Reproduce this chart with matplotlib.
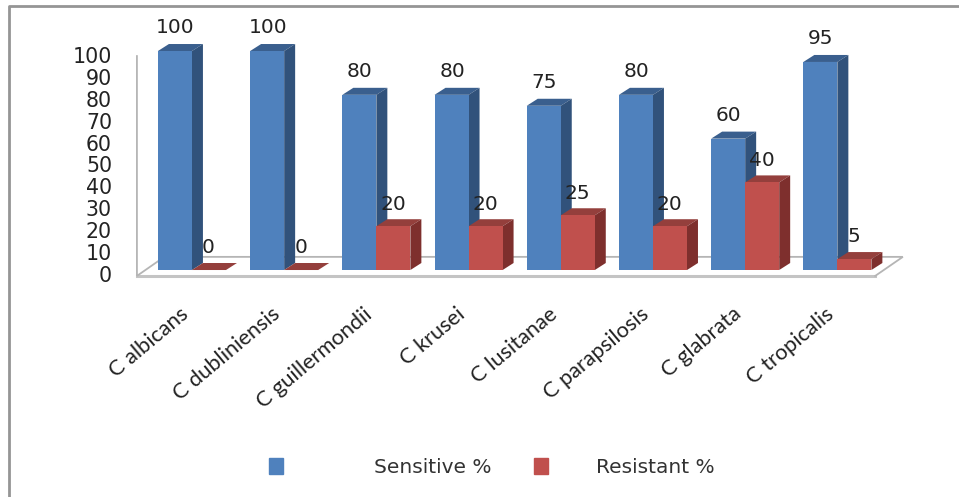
import matplotlib
matplotlib.use("Agg")
import matplotlib.pyplot as plt
from matplotlib.patches import Polygon, Patch

#------------------------ datos ----------------------------

especies = ['C albicans', 'C dubliniensis', 'C guillermondii', 'C krusei',
            'C lusitanae', 'C parapsilosis', 'C glabrata', 'C tropicalis']
sensible = [100, 100, 80, 80, 75, 80, 60, 95]
resistente = [0, 0, 20, 20, 25, 20, 40, 5]
ticks_y = [0, 10, 20, 30, 40, 50, 60, 70, 80, 90, 100]

#------------------------ estilo ----------------------------

ancho = 0.369
prof_x = 0.119
prof_y = 3.2

azul = ('#4F81BD', '#3A5F8E', '#31527B')
rojo = ('#C0504D', '#943F3C', '#7E2F2D')

#------------------------ funciones ----------------------------

def barra(ax, x, valor, colores):
    frente, arriba, lado = colores
    ax.add_patch(Polygon([(x, valor), (x + prof_x, valor + prof_y),
                          (x + ancho + prof_x, valor + prof_y), (x + ancho, valor)],
                         color=arriba, lw=0, zorder=3 + x))
    ax.add_patch(Polygon([(x + ancho, 0), (x + ancho + prof_x, prof_y),
                          (x + ancho + prof_x, valor + prof_y), (x + ancho, valor)],
                         color=lado, lw=0, zorder=3 + x))
    if valor > 0:
        ax.bar(x, valor, ancho, align='edge', color=frente, zorder=3.01 + x)

def leyenda(ax, color, texto, izq, separacion):
    return ax.legend(handles=[Patch(color=color, label=texto)],
                     frameon=False, fontsize=14.5, handlelength=0.7, handleheight=0.8,
                     handletextpad=separacion, loc='center left',
                     bbox_to_anchor=(izq, 0.0595), borderaxespad=0, borderpad=0,
                     labelcolor='#333333')

#-------------------------- Grafico ------------------------------

fig = plt.figure(figsize=(9.59, 4.97), dpi=100)
ax = fig.add_axes([0, 0, 1, 1])
ax.set_xlim(-2.082, 8.319)
ax.set_ylim(-103.65, 123.3)
ax.axis('off')

# piso y pared
piso_y = -2.7
ax.plot([-0.597, 7.41], [piso_y, piso_y], color='#C4C4C4', lw=2.2, zorder=1)
ax.plot([-0.597, -0.597, -0.30, 7.71, 7.41],
        [97.7, piso_y, 6, 6, piso_y], color='#B5B5B5', lw=1.3, zorder=1,
        solid_joinstyle='miter')

for i in range(len(especies)):
    barra(ax, i - ancho, sensible[i], azul)
    barra(ax, i, resistente[i], rojo)

    ax.text(i - ancho + 0.19, sensible[i] + prof_y + 3, str(sensible[i]),
            ha='center', va='bottom', fontsize=14.5, color='#222222', zorder=20)
    ax.text(i + 0.18, resistente[i] + prof_y + 2.6, str(resistente[i]),
            ha='center', va='bottom', fontsize=14.5, color='#222222', zorder=20)

    ax.text(i - 0.14, -15.5, especies[i], rotation=40, rotation_mode='anchor',
            ha='right', va='top', family='Lato', fontsize=15.7, color='#222222')

for t in ticks_y:
    ax.text(-0.866, t + piso_y, str(t), ha='right', va='center',
            fontsize=14.8, color='#222222')

# marco exterior
ax.plot([-1.985, -1.985, 8.319], [-103.65, 120.5, 120.5],
        color='#959595', lw=2, zorder=0)

# leyenda
ley1 = leyenda(ax, azul[0], 'Sensitive %', 0.2805, 4.5)
ax.add_artist(ley1)
leyenda(ax, rojo[0], 'Resistant %', 0.557, 2.35)

fig.savefig('out.png', dpi=100)
